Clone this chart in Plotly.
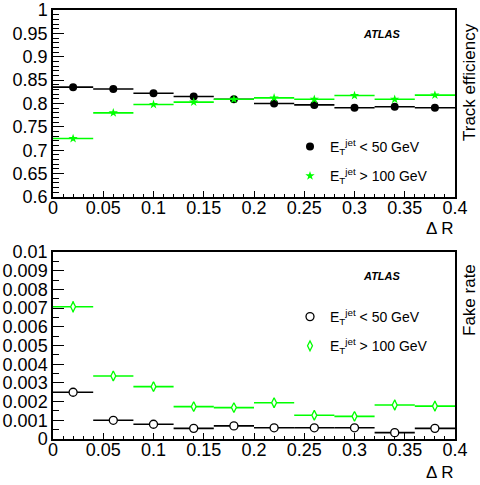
import plotly.graph_objects as go

# ---- data ----
delta_r = [0.02, 0.06, 0.10, 0.14, 0.18, 0.22, 0.26, 0.30, 0.34, 0.38]
bin_half_width = [0.02] * 10

eff_low = [0.835, 0.831, 0.822, 0.815, 0.809, 0.800, 0.797, 0.791, 0.793, 0.791]
eff_low_err = [0.002] * 10
eff_high = [0.725, 0.780, 0.798, 0.803, 0.809, 0.812, 0.809, 0.817, 0.809, 0.818]
eff_high_err = [0.002] * 10

fake_low = [0.00250, 0.00100, 0.00079, 0.00057, 0.00070, 0.00060, 0.00060, 0.00060, 0.00034, 0.00057]
fake_low_err = [0.0001] * 10
fake_high = [0.00707, 0.00337, 0.00280, 0.00173, 0.00168, 0.00194, 0.00127, 0.00121, 0.00182, 0.00176]
fake_high_err = [0.00030, 0.00025, 0.00025, 0.00022, 0.00022, 0.00025, 0.00022, 0.00022, 0.00028, 0.00028]

label_low = "E<sub>T</sub><sup>jet</sup> < 50 GeV"
label_high = "E<sub>T</sub><sup>jet</sup> > 100 GeV"

BLACK = "#000000"
GREEN = "#00ff00"
WHITE = "#ffffff"
FONT = "Liberation Sans, Arial, sans-serif"

W, H = 480, 485

def px(x):
    return x / W

def py(y):
    return 1 - y / H

fig = go.Figure()

def ex(color):
    return dict(type="data", array=bin_half_width, width=0, thickness=1.6, color=color)

def ey(arr, color):
    return dict(type="data", array=arr, width=0, thickness=1.4, color=color)

# top panel
fig.add_trace(go.Scatter(x=delta_r, y=eff_low, mode="markers", name=label_low,
                         error_x=ex(BLACK), error_y=ey(eff_low_err, BLACK),
                         marker=dict(symbol="circle", size=8, color=BLACK),
                         xaxis="x", yaxis="y", legend="legend", legendgroup="a"))
fig.add_trace(go.Scatter(x=delta_r, y=eff_high, mode="markers", name=label_high,
                         error_x=ex(GREEN), error_y=ey(eff_high_err, GREEN),
                         marker=dict(symbol="star", size=7, color=GREEN, line=dict(width=0)),
                         xaxis="x", yaxis="y", legend="legend", legendgroup="b"))
# bottom panel (hollow markers: white fill hides the bar inside)
fig.add_trace(go.Scatter(x=delta_r, y=fake_low, mode="markers", name=label_low,
                         error_x=ex(BLACK), error_y=ey(fake_low_err, BLACK),
                         marker=dict(symbol="circle", size=8, color=WHITE,
                                     line=dict(width=1.3, color=BLACK)),
                         xaxis="x2", yaxis="y2", legend="legend2", legendgroup="c"))
fig.add_trace(go.Scatter(x=delta_r, y=fake_high, mode="markers", name=label_high,
                         error_x=ex(GREEN), error_y=ey(fake_high_err, GREEN),
                         marker=dict(symbol="diamond-tall", size=7, color=WHITE,
                                     line=dict(width=1.3, color=GREEN)),
                         xaxis="x2", yaxis="y2", legend="legend2", legendgroup="d"))

xdom = [px(53), px(455)]
ytop = [py(197), py(10)]
ybot = [py(439), py(252)]

axis_common = dict(showgrid=False, zeroline=False, showline=True, linecolor=BLACK,
                   linewidth=1.5, mirror=True, ticks="inside", tickcolor=BLACK,
                   automargin=False,
                   tickfont=dict(family=FONT, size=18, color=BLACK))

xaxis_cfg = dict(axis_common, range=[0, 0.4], tick0=0, dtick=0.05, ticklen=6, tickwidth=1,
                 ticklabelstandoff=-6,
                 minor=dict(ticks="inside", dtick=0.01, ticklen=3, tickcolor=BLACK, showgrid=False),
                 domain=xdom)

fig.update_layout(
    template="none",
    width=W, height=H,
    margin=dict(l=0, r=0, t=0, b=0, pad=0),
    paper_bgcolor="white", plot_bgcolor="white",
    font=dict(family=FONT, color=BLACK),
    xaxis=dict(xaxis_cfg, anchor="y"),
    yaxis=dict(axis_common, range=[0.6, 1.0], tick0=0.6, dtick=0.05, ticklen=11, tickwidth=1,
               minor=dict(ticks="inside", dtick=0.01, ticklen=6, tickcolor=BLACK, showgrid=False),
               domain=ytop, anchor="x"),
    xaxis2=dict(xaxis_cfg, anchor="y2"),
    yaxis2=dict(axis_common, range=[0, 0.01], tick0=0, dtick=0.001, ticklen=11, tickwidth=1,
                minor=dict(ticks="inside", dtick=0.0005, ticklen=6, tickcolor=BLACK, showgrid=False),
                domain=ybot, anchor="x2"),
    legend=dict(x=px(290), y=py(131), xanchor="left", yanchor="top",
                bgcolor="rgba(0,0,0,0)", borderwidth=0, tracegroupgap=8,
                font=dict(family=FONT, size=14, color=BLACK), itemwidth=30),
    legend2=dict(x=px(290), y=py(301), xanchor="left", yanchor="top",
                 bgcolor="rgba(0,0,0,0)", borderwidth=0, tracegroupgap=8,
                 font=dict(family=FONT, size=14, color=BLACK), itemwidth=30),
    showlegend=True,
)

annots = [
    dict(text="<b><i>ATLAS</i></b>", x=px(382), y=py(34), font=dict(size=11)),
    dict(text="<b><i>ATLAS</i></b>", x=px(382), y=py(276), font=dict(size=11)),
    dict(text="Δ R", x=px(455), y=py(228), xanchor="right", font=dict(size=17)),
    dict(text="Δ R", x=px(455), y=py(472), xanchor="right", font=dict(size=17)),
    dict(text="Track efficiency", x=px(469), y=py(82), textangle=-90, font=dict(size=17)),
    dict(text="Fake rate", x=px(469), y=py(300), textangle=-90, font=dict(size=17)),
]
for a in annots:
    a.setdefault("xanchor", "center")
    a.setdefault("yanchor", "middle")
    a["font"].update(family=FONT, color=BLACK)
    fig.add_annotation(xref="paper", yref="paper", showarrow=False, **a)

fig.write_html("out.html",
               config={"displayModeBar": False},
               post_script="document.body.style.margin='0';document.body.style.overflow='hidden';")
